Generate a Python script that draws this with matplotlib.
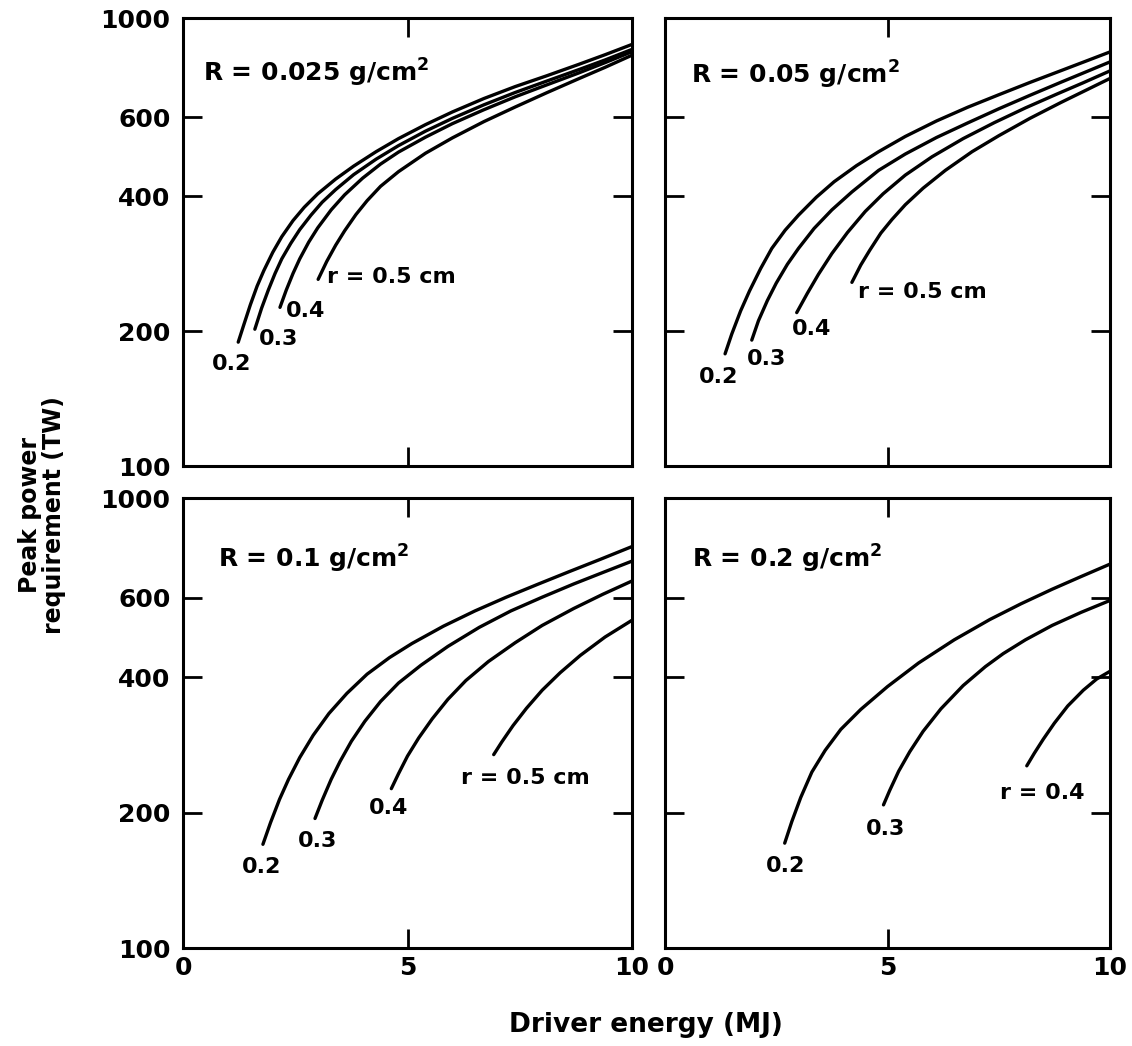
import matplotlib
matplotlib.use('Agg')
import matplotlib.pyplot as plt
from matplotlib.ticker import FixedLocator, NullLocator, FixedFormatter

plt.rcParams['font.family'] = ['DejaVu Sans']
plt.rcParams['mathtext.default'] = 'regular'

# ---------------- data ----------------
panel_titles = ["R = 0.025 g/cm$^2$", "R = 0.05 g/cm$^2$",
                "R = 0.1 g/cm$^2$", "R = 0.2 g/cm$^2$"]

x_ticks = [0, 5, 10]
x_ticklabels = ["0", "5", "10"]
y_ticks = [100, 200, 400, 600, 1000]
y_ticklabels = ["100", "200", "400", "600", "1000"]

# R = 0.025 g/cm2
tl02_x = [1.23, 1.35, 1.5, 1.65, 1.8, 2.0, 2.2, 2.45, 2.7, 3.0, 3.4, 3.8, 4.3, 4.8, 5.4, 6.0, 6.7, 7.4, 8.1, 8.8, 9.4, 10.0]
tl02_y = [189, 206, 229, 252, 273, 300, 325, 353, 378, 405, 437, 467, 503, 538, 578, 617, 661, 703, 743, 787, 828, 873]
tl03_x = [1.6, 1.75, 1.9, 2.05, 2.2, 2.4, 2.6, 2.85, 3.1, 3.4, 3.8, 4.3, 4.8, 5.4, 6.0, 6.7, 7.4, 8.1, 8.8, 9.4, 10.0]
tl03_y = [202, 225, 247, 269, 290, 314, 337, 363, 388, 414, 447, 484, 519, 559, 597, 640, 682, 723, 766, 806, 851]
tl04_x = [2.16, 2.3, 2.45, 2.6, 2.8, 3.0, 3.3, 3.6, 4.0, 4.4, 4.8, 5.4, 6.0, 6.7, 7.4, 8.1, 8.8, 9.4, 10.0]
tl04_y = [226, 247, 269, 290, 316, 340, 373, 403, 439, 472, 502, 542, 581, 624, 667, 709, 753, 795, 841]
tl05_x = [3.01, 3.2, 3.4, 3.6, 3.85, 4.1, 4.4, 4.8, 5.4, 6.0, 6.7, 7.4, 8.1, 8.8, 9.4, 10.0]
tl05_y = [261, 286, 311, 335, 364, 391, 421, 454, 499, 540, 587, 633, 681, 731, 776, 826]

# R = 0.05 g/cm2
tr02_x = [1.35, 1.5, 1.7, 1.9, 2.15, 2.4, 2.7, 3.0, 3.4, 3.8, 4.3, 4.8, 5.4, 6.1, 6.8, 7.5, 8.2, 8.9, 9.5, 10.0]
tr02_y = [178, 197, 222, 246, 276, 306, 336, 363, 398, 431, 468, 503, 544, 589, 632, 674, 718, 763, 804, 840]
tr03_x = [1.95, 2.1, 2.3, 2.5, 2.75, 3.0, 3.35, 3.75, 4.2, 4.8, 5.4, 6.1, 6.8, 7.5, 8.2, 8.9, 9.5, 10.0]
tr03_y = [191, 211, 234, 256, 282, 306, 339, 373, 409, 457, 497, 541, 583, 627, 672, 719, 761, 798]
tr04_x = [2.96, 3.2, 3.45, 3.75, 4.1, 4.5, 4.9, 5.4, 6.0, 6.7, 7.4, 8.1, 8.8, 9.4, 10.0]
tr04_y = [220, 243, 268, 298, 332, 370, 405, 446, 490, 538, 584, 630, 676, 717, 762]
tr05_x = [4.2, 4.4, 4.6, 4.85, 5.1, 5.4, 5.8, 6.3, 6.9, 7.5, 8.2, 8.9, 9.5, 10.0]
tr05_y = [257, 281, 303, 331, 355, 383, 417, 457, 503, 546, 597, 648, 693, 733]

# R = 0.1 g/cm2
bl02_x = [1.78, 1.95, 2.15, 2.35, 2.6, 2.9, 3.25, 3.65, 4.1, 4.6, 5.1, 5.8, 6.5, 7.2, 7.9, 8.6, 9.3, 10.0]
bl02_y = [170, 190, 214, 237, 265, 297, 332, 368, 406, 442, 475, 519, 561, 602, 643, 686, 731, 780]
bl03_x = [2.94, 3.1, 3.3, 3.5, 3.75, 4.05, 4.4, 4.8, 5.3, 5.9, 6.6, 7.3, 8.0, 8.7, 9.35, 10.0]
bl03_y = [194, 213, 237, 260, 288, 319, 353, 388, 425, 468, 516, 561, 602, 644, 683, 724]
bl04_x = [4.64, 4.8, 5.0, 5.25, 5.55, 5.9, 6.3, 6.8, 7.4, 8.0, 8.7, 9.35, 10.0]
bl04_y = [226, 244, 267, 293, 323, 357, 393, 433, 477, 521, 568, 611, 654]
bl05_x = [6.92, 7.1, 7.35, 7.65, 8.0, 8.4, 8.85, 9.4, 10.0]
bl05_y = [269, 287, 312, 341, 374, 409, 447, 491, 535]

# R = 0.2 g/cm2
br02_x = [2.69, 2.85, 3.05, 3.3, 3.6, 3.95, 4.4, 5.0, 5.7, 6.5, 7.3, 8.0, 8.7, 9.35, 10.0]
br02_y = [171, 191, 216, 246, 275, 306, 339, 381, 430, 484, 537, 582, 627, 669, 713]
br03_x = [4.91, 5.05, 5.25, 5.5, 5.8, 6.2, 6.7, 7.2, 7.6, 8.1, 8.7, 9.35, 10.0]
br03_y = [208, 224, 247, 273, 303, 340, 383, 422, 451, 484, 521, 557, 592]
br04_x = [8.13, 8.3, 8.5, 8.75, 9.05, 9.4, 9.7, 10.0]
br04_y = [254, 271, 291, 316, 345, 374, 396, 412]

labels_tl = ["0.2", "0.3", "0.4", "r = 0.5 cm"]
labels_tr = ["0.2", "0.3", "0.4", "r = 0.5 cm"]
labels_bl = ["0.2", "0.3", "0.4", "r = 0.5 cm"]
labels_br = ["0.2", "0.3", "r = 0.4"]

# ---------------- figure ----------------
W, H = 1132, 1046
fig = plt.figure(figsize=(W / 100, H / 100), dpi=100)
fig.patch.set_facecolor('white')

def frac(l, t, r, b):
    return [l / W, 1 - b / H, (r - l) / W, (b - t) / H]

ax_tl = fig.add_axes(frac(183, 18, 632, 466))
ax_tr = fig.add_axes(frac(665, 18, 1110, 466))
ax_bl = fig.add_axes(frac(183, 498, 632, 948))
ax_br = fig.add_axes(frac(665, 498, 1110, 948))

TICK_FS = 18
LBL_FS = 16
TITLE_FS = 18

def style(ax, show_x, show_y):
    ax.set_yscale('log')
    ax.set_xlim(0, 10)
    ax.set_ylim(100, 1000)
    ax.xaxis.set_major_locator(FixedLocator(x_ticks))
    ax.yaxis.set_major_locator(FixedLocator(y_ticks))
    ax.yaxis.set_minor_locator(NullLocator())
    ax.xaxis.set_minor_locator(NullLocator())
    ax.xaxis.set_major_formatter(FixedFormatter(x_ticklabels))
    ax.yaxis.set_major_formatter(FixedFormatter(y_ticklabels))
    ax.tick_params(direction='in', top=True, right=True, length=13.5,
                   width=2.0, labelsize=TICK_FS,
                   labelbottom=show_x, labelleft=show_y)
    ax.tick_params(axis='y', pad=9)
    ax.tick_params(axis='x', pad=6)
    for lab in ax.get_xticklabels() + ax.get_yticklabels():
        lab.set_fontweight('bold')
    for sp in ax.spines.values():
        sp.set_linewidth(2.2)

def curve(ax, x, y):
    ax.plot(x, y, color='black', lw=2.4, solid_capstyle='round',
            solid_joinstyle='round')

def lbl(ax, s, x, y, ha='center'):
    ax.text(x, y, s, ha=ha, va='center', fontsize=LBL_FS, fontweight='bold')

# top-left
style(ax_tl, False, True)
for x, y in [(tl02_x, tl02_y), (tl03_x, tl03_y), (tl04_x, tl04_y), (tl05_x, tl05_y)]:
    curve(ax_tl, x, y)
ax_tl.text(0.45, 720, panel_titles[0], fontsize=TITLE_FS, va='baseline', fontweight='bold')
lbl(ax_tl, labels_tl[0], 1.08, 169)
lbl(ax_tl, labels_tl[1], 2.12, 192)
lbl(ax_tl, labels_tl[2], 2.72, 222)
lbl(ax_tl, labels_tl[3], 3.20, 264, ha='left')

# top-right
style(ax_tr, False, False)
for x, y in [(tr02_x, tr02_y), (tr03_x, tr03_y), (tr04_x, tr04_y), (tr05_x, tr05_y)]:
    curve(ax_tr, x, y)
ax_tr.text(0.59, 713, panel_titles[1], fontsize=TITLE_FS, va='baseline', fontweight='bold')
lbl(ax_tr, labels_tr[0], 1.21, 158)
lbl(ax_tr, labels_tr[1], 2.28, 173)
lbl(ax_tr, labels_tr[2], 3.30, 202)
lbl(ax_tr, labels_tr[3], 4.34, 244, ha='left')

# bottom-left
style(ax_bl, True, True)
for x, y in [(bl02_x, bl02_y), (bl03_x, bl03_y), (bl04_x, bl04_y), (bl05_x, bl05_y)]:
    curve(ax_bl, x, y)
ax_bl.text(0.77, 700, panel_titles[2], fontsize=TITLE_FS, va='baseline', fontweight='bold')
lbl(ax_bl, labels_bl[0], 1.76, 151)
lbl(ax_bl, labels_bl[1], 2.99, 173)
lbl(ax_bl, labels_bl[2], 4.57, 205)
lbl(ax_bl, labels_bl[3], 6.20, 239, ha='left')

# bottom-right
style(ax_br, True, False)
for x, y in [(br02_x, br02_y), (br03_x, br03_y), (br04_x, br04_y)]:
    curve(ax_br, x, y)
ax_br.text(0.61, 701, panel_titles[3], fontsize=TITLE_FS, va='baseline', fontweight='bold')
lbl(ax_br, labels_br[0], 2.71, 152)
lbl(ax_br, labels_br[1], 4.95, 184)
lbl(ax_br, labels_br[2], 7.53, 221, ha='left')

# axis titles
fig.text(42 / W, 1 - 515 / H, "Peak power\nrequirement (TW)", rotation=90,
         ha='center', va='center', fontsize=17, fontweight='bold',
         multialignment='center', linespacing=1.0)
fig.text(646 / W, 1 - 1025 / H, "Driver energy (MJ)", ha='center', va='center',
         fontsize=19, fontweight='bold')

fig.savefig('out.png', dpi=100, facecolor='white')
